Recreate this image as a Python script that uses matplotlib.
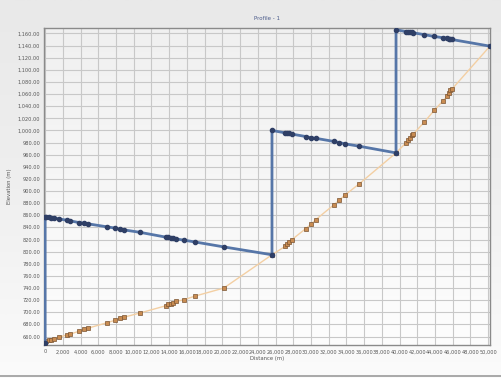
import numpy as np
import matplotlib.pyplot as plt
from matplotlib.ticker import FuncFormatter, MultipleLocator
from matplotlib.lines import Line2D
from matplotlib.colors import LinearSegmentedColormap

# 距离 (m)
dist = [0, 100, 400, 700, 1000, 1600, 2450, 2800, 3850, 4400, 4850, 7000, 7900, 8400,
        8900, 10700, 13650, 13900, 14150, 14400, 14800, 15700, 16950, 20150, 25600,
        27100, 27300, 27550, 27850, 29400, 30000, 30550, 32550, 33200, 33800, 35450, 39600,
        40750, 41000, 41200, 41400, 41550, 42800, 43900, 44850, 45350, 45550, 45700, 45900, 50200]

# 地面高程
ground = [649, 653, 654, 655, 656, 659, 663, 664, 669, 672, 674, 683, 687, 690,
          692, 699, 711, 713, 714, 715, 718, 721, 727, 740, 795,
          809, 812, 816, 820, 838, 845, 853, 877, 885, 893, 912, 963,
          980, 984, 988, 992, 994, 1014, 1033, 1048, 1056, 1061, 1066, 1068, 1139]

# 水力坡降线
hgl_dist = [0, 0, 100, 400, 700, 1000, 1600, 2450, 2800, 3850, 4400, 4850, 7000, 7900, 8400,
            8900, 10700, 13650, 13900, 14150, 14400, 14800, 15700, 16950, 20150, 25600,
            25600, 27100, 27300, 27550, 27850, 29400, 30000, 30550, 32550, 33200, 33800, 35450, 39600,
            39600, 40750, 41000, 41200, 41400, 41550, 42800, 43900, 44850, 45350, 45550, 45700, 45900, 50200]
hgl = [649, 858, 858, 857, 856, 856, 854, 852, 851, 848, 847, 846, 841, 839, 837,
       836, 832, 824, 824, 823, 822, 821, 819, 816, 808, 795,
       1000, 996, 995, 995, 994, 990, 988, 987, 982, 980, 978, 974, 963,
       1166, 1163, 1163, 1162, 1162, 1161, 1158, 1155, 1153, 1152, 1151, 1150, 1150, 1139]

fig = plt.figure(figsize=(5.02, 3.78), dpi=100)
fig.patch.set_facecolor('#ebebeb')

# 背景渐变
bg = fig.add_axes([0, 0, 1, 1], zorder=-10)
cm_bg = LinearSegmentedColormap.from_list('bg', ['#e9e9e9', '#efefef', '#fbfbfb'])
grad = np.linspace(0, 1, 256).reshape(-1, 1)
bg.imshow(grad, aspect='auto', cmap=cm_bg, extent=[0, 1, 0, 1])
bg.set_xlim(0, 1)
bg.set_ylim(0, 1)
bg.axis('off')

ax = fig.add_axes([0.088, 0.087, 0.888, 0.839])
cm_ax = LinearSegmentedColormap.from_list('ax', ['#f0f0f0', '#fdfdfd'])
ax.imshow(grad, aspect='auto', cmap=cm_ax, extent=[-110, 50200, 646, 1169], zorder=0)

ax.plot(dist, ground, color='#f3cfa3', lw=1.0, marker='s', ms=3.0,
        mfc='#c98c52', mec='#7a5432', mew=0.5, zorder=3)
ax.plot(hgl_dist, hgl, color='#5676a8', lw=2.0, marker='o', ms=3.0,
        mfc='#2f3f66', mec='#2f3f66', zorder=4)

ax.set_xlim(-110, 50200)
ax.set_ylim(646, 1169)
ax.xaxis.set_major_locator(MultipleLocator(2000))
ax.yaxis.set_major_locator(MultipleLocator(20))
ax.xaxis.set_major_formatter(FuncFormatter(lambda v, p: f'{v:,.0f}'))
ax.yaxis.set_major_formatter(FuncFormatter(lambda v, p: f'{v:,.2f}'))
ax.tick_params(labelsize=3.6, length=0, pad=3, colors='#555555')
ax.grid(True, color='#c8c8c8', lw=0.8, zorder=1)
ax.set_axisbelow(True)
for s in ax.spines.values():
    s.set_color('#8a8a8a')
    s.set_linewidth(1.0)

ax.set_title('Profile - 1', fontsize=4, color='#4a5a8a', pad=6)
ax.set_xlabel('Distance (m)', fontsize=3.8, color='#555555', labelpad=1)
ax.set_ylabel('Elevation (m)', fontsize=3.8, color='#555555', labelpad=4)

fig.add_artist(Line2D([0, 1], [0.006, 0.006], color='#9a9a9a', lw=1.2))

plt.savefig('out.png', dpi=100)
